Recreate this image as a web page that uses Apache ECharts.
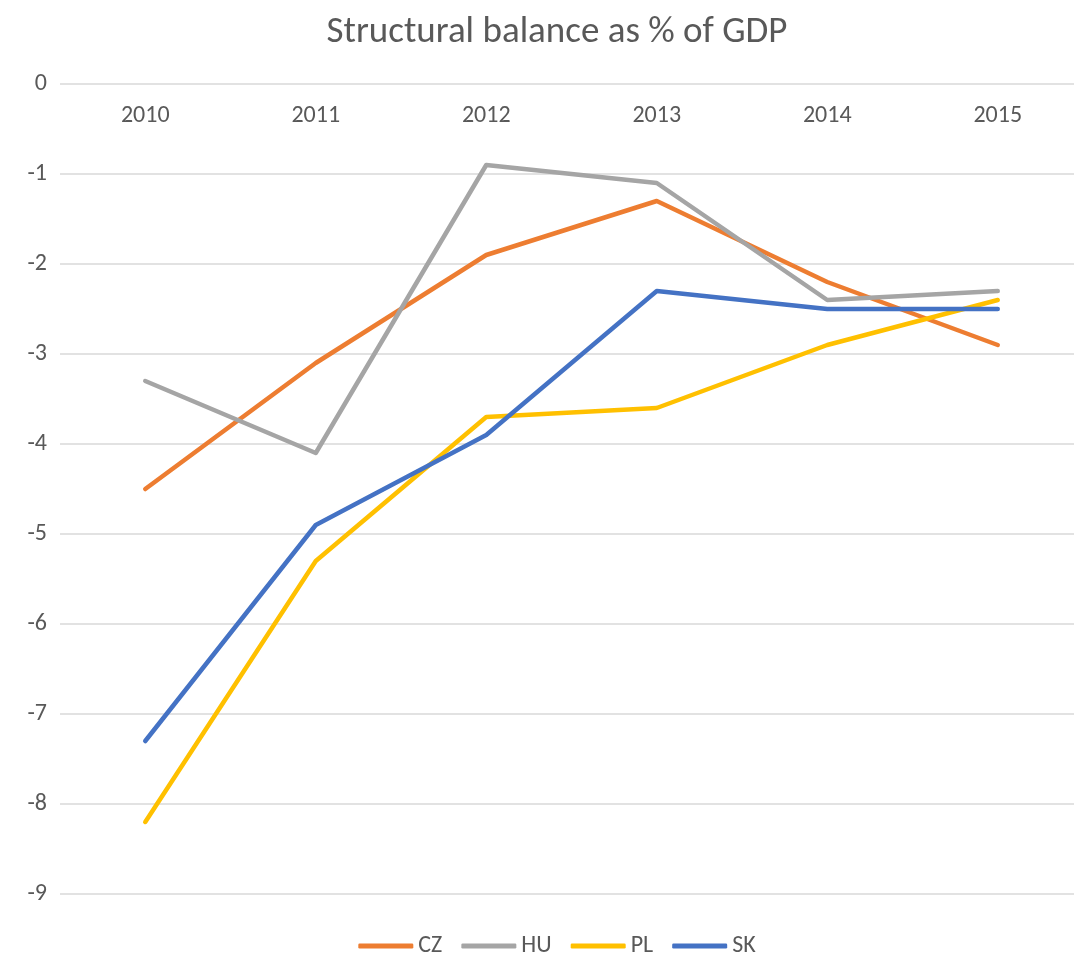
<!DOCTYPE html>
<html><head><meta charset="utf-8">
<script src="https://cdn.jsdelivr.net/npm/echarts@6/dist/echarts.min.js"></script>
<style>html,body{margin:0;padding:0;background:#fff;overflow:hidden;width:1074px;height:956px}#c{width:1114px;height:956px}</style>
</head><body><div id="c"></div>
<script>
const categories = ['2010','2011','2012','2013','2014','2015'];
const cz = [-4.5, -3.1, -1.9, -1.3, -2.2, -2.9];
const hu = [-3.3, -4.1, -0.9, -1.1, -2.4, -2.3];
const pl = [-8.2, -5.3, -3.7, -3.6, -2.9, -2.4];
const sk = [-7.3, -4.9, -3.9, -2.3, -2.5, -2.5];
const seriesNames = ['CZ','HU','PL','SK'];
const colors = ['#ED7D31','#A5A5A5','#FFC000','#4472C4'];
const FONT = "Carlito, 'Liberation Sans Narrow', 'Open Sans', sans-serif";
const chart = echarts.init(document.getElementById('c'));
const mk = (name, data, color) => ({
  name, type: 'line', data, symbol: 'none', smooth: false,
  lineStyle: { width: 4.5, color, cap: 'round', join: 'round' },
  itemStyle: { color }
});
chart.setOption({
  animation: false,
  textStyle: { fontFamily: FONT },
  title: { text: 'Structural balance as % of GDP', left: 'center', top: 9,
    textStyle: { fontFamily: FONT, fontSize: 37, fontWeight: 'normal', color: '#595959' } },
  legend: { top: 929, left: 'center', icon: 'roundRect', itemWidth: 55, itemHeight: 5, itemGap: 19,
    textStyle: { fontFamily: FONT, fontSize: 24, color: '#595959' },
    data: seriesNames },
  grid: { left: 60, right: 31, top: 84, bottom: 62, containLabel: false },
  xAxis: { type: 'category', data: categories, position: 'top', boundaryGap: true,
    axisLine: { show: false }, axisTick: { show: false },
    axisLabel: { inside: true, margin: 20, fontSize: 24, color: '#595959', fontFamily: FONT } },
  yAxis: { type: 'value', min: -9, max: 0, interval: 1,
    axisLine: { show: false }, axisTick: { show: false },
    axisLabel: { margin: 13, fontSize: 24, color: '#595959', fontFamily: FONT },
    splitLine: { lineStyle: { color: '#D9D9D9', width: 1.5 } } },
  series: [mk('CZ', cz, colors[0]), mk('HU', hu, colors[1]), mk('PL', pl, colors[2]), mk('SK', sk, colors[3])]
});
</script></body></html>
